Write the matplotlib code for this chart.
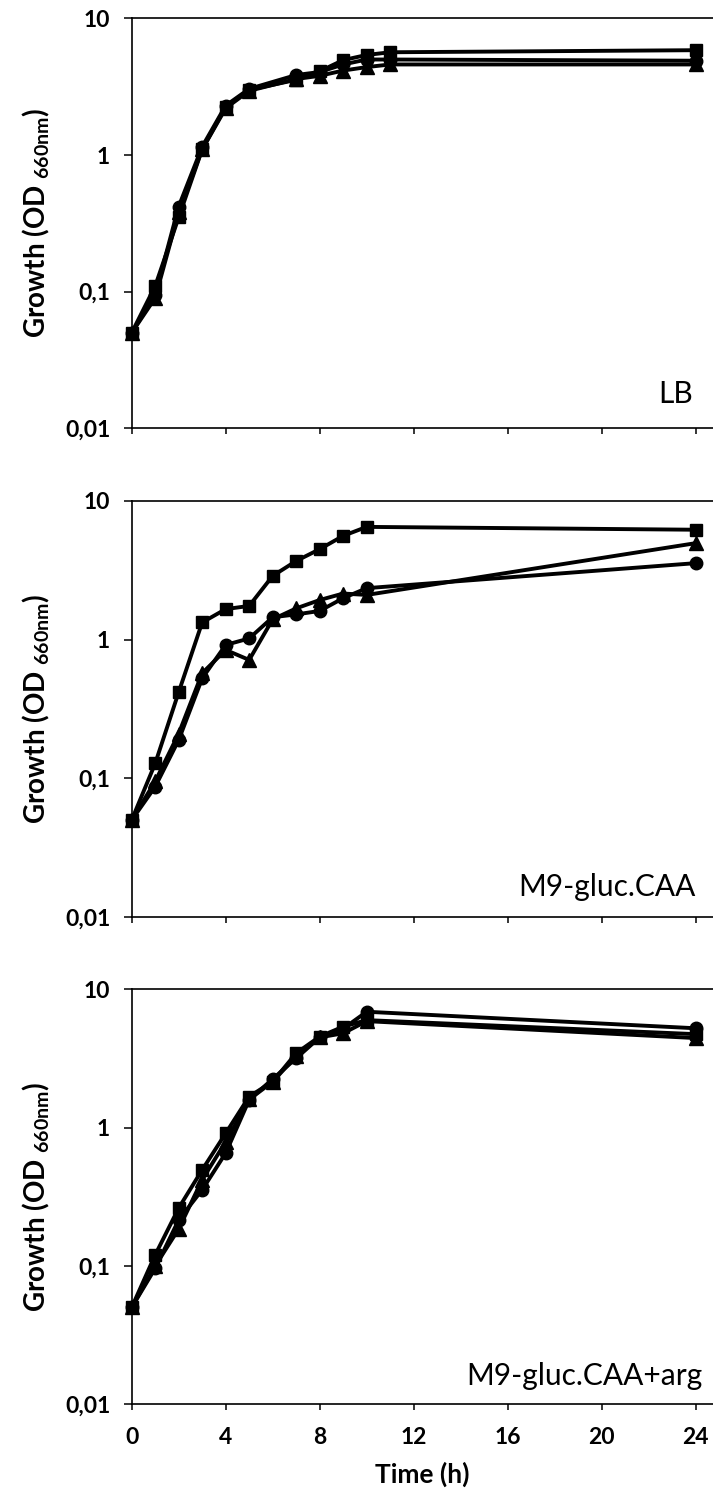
import matplotlib
matplotlib.use("Agg")
import matplotlib.pyplot as plt
from matplotlib.ticker import FixedLocator, NullLocator

plt.rcParams['font.family'] = ['Lato', 'DejaVu Sans']
plt.rcParams['mathtext.fontset'] = 'custom'
plt.rcParams['mathtext.rm'] = 'Lato'
plt.rcParams['mathtext.bf'] = 'Lato:bold'

# LB medium (no 6 h point)
lb_time = [0, 1, 2, 3, 4, 5, 7, 8, 9, 10, 11, 24]
lb_square = [0.05, 0.11, 0.35, 1.1, 2.25, 3.0, 3.55, 4.1, 4.95, 5.4, 5.65, 5.85]
lb_circle = [0.05, 0.095, 0.42, 1.15, 2.3, 3.05, 3.85, 4.05, 4.6, 5.0, 5.0, 4.9]
lb_triangle = [0.05, 0.09, 0.38, 1.1, 2.2, 2.95, 3.6, 3.8, 4.15, 4.4, 4.6, 4.6]

# M9-gluc.CAA
caa_time = [0, 1, 2, 3, 4, 5, 6, 7, 8, 9, 10, 24]
caa_square = [0.05, 0.128, 0.418, 1.33, 1.66, 1.75, 2.88, 3.69, 4.49, 5.6, 6.5, 6.2]
caa_circle = [0.05, 0.087, 0.189, 0.526, 0.916, 1.02, 1.45, 1.52, 1.61, 1.99, 2.35, 3.56]
caa_triangle = [0.05, 0.095, 0.21, 0.573, 0.843, 0.714, 1.40, 1.68, 1.93, 2.15, 2.1, 4.96]

# M9-gluc.CAA+arg
arg_time = [0, 1, 2, 3, 4, 5, 6, 7, 8, 9, 10, 24]
arg_square = [0.05, 0.12, 0.262, 0.495, 0.91, 1.68, 2.15, 3.46, 4.56, 5.38, 6.0, 4.75]
arg_circle = [0.05, 0.096, 0.215, 0.355, 0.655, 1.59, 2.25, 3.18, 4.5, 5.2, 6.9, 5.24]
arg_triangle = [0.05, 0.1, 0.185, 0.42, 0.79, 1.6, 2.15, 3.3, 4.5, 4.82, 5.9, 4.45]

panels = [
    ("LB", lb_time, lb_square, lb_circle, lb_triangle),
    ("M9-gluc.CAA", caa_time, caa_square, caa_circle, caa_triangle),
    ("M9-gluc.CAA+arg", arg_time, arg_square, arg_circle, arg_triangle),
]
boxes = [
    [0.1847, 0.7133, 0.8153, 0.2744],
    [0.1847, 0.3862, 0.8153, 0.2785],
    [0.1847, 0.0602, 0.8153, 0.2775],
]
label_pos = [(0.966, 0.062), (0.97, 0.05), (0.982, 0.046)]

fig = plt.figure(figsize=(7.13, 14.94), dpi=100)

for i, (name, t, sq, ci, tr) in enumerate(panels):
    ax = fig.add_axes(boxes[i])
    ax.plot(t, tr, color='black', lw=2.8, marker='^', ms=9.5, clip_on=False)
    ax.plot(t, ci, color='black', lw=2.8, marker='o', ms=9, clip_on=False)
    ax.plot(t, sq, color='black', lw=2.8, marker='s', ms=9, clip_on=False)
    ax.set_yscale('log')
    ax.set_ylim(0.01, 10)
    ax.set_xlim(0, 24.74)
    ax.yaxis.set_major_locator(FixedLocator([0.01, 0.1, 1, 10]))
    ax.yaxis.set_minor_locator(NullLocator())
    ax.set_yticklabels(['0,01', '0,1', '1', '10'], fontsize=16.5, fontweight='bold')
    ax.set_xticks([0, 4, 8, 12, 16, 20, 24])
    ax.tick_params(axis='y', length=5.5, width=1.1, pad=10)
    ax.tick_params(axis='x', length=4.5, width=1.1, pad=12)
    ax.spines['right'].set_visible(False)
    for s in ['left', 'bottom', 'top']:
        ax.spines[s].set_linewidth(1.2)
    ax.set_ylabel(r'Growth (OD $_{\mathbf{660nm}}$)', fontsize=20, fontweight='bold', labelpad=9)
    ax.text(label_pos[i][0], label_pos[i][1], name, transform=ax.transAxes,
            ha='right', va='baseline', fontsize=21.5)
    if i < 2:
        ax.set_xticklabels([])
    else:
        ax.set_xticklabels(['0', '4', '8', '12', '16', '20', '24'], fontsize=16.5, fontweight='bold')
        ax.set_xlabel('Time (h)', fontsize=19, fontweight='bold', labelpad=10)

fig.savefig('out.png', dpi=100)
